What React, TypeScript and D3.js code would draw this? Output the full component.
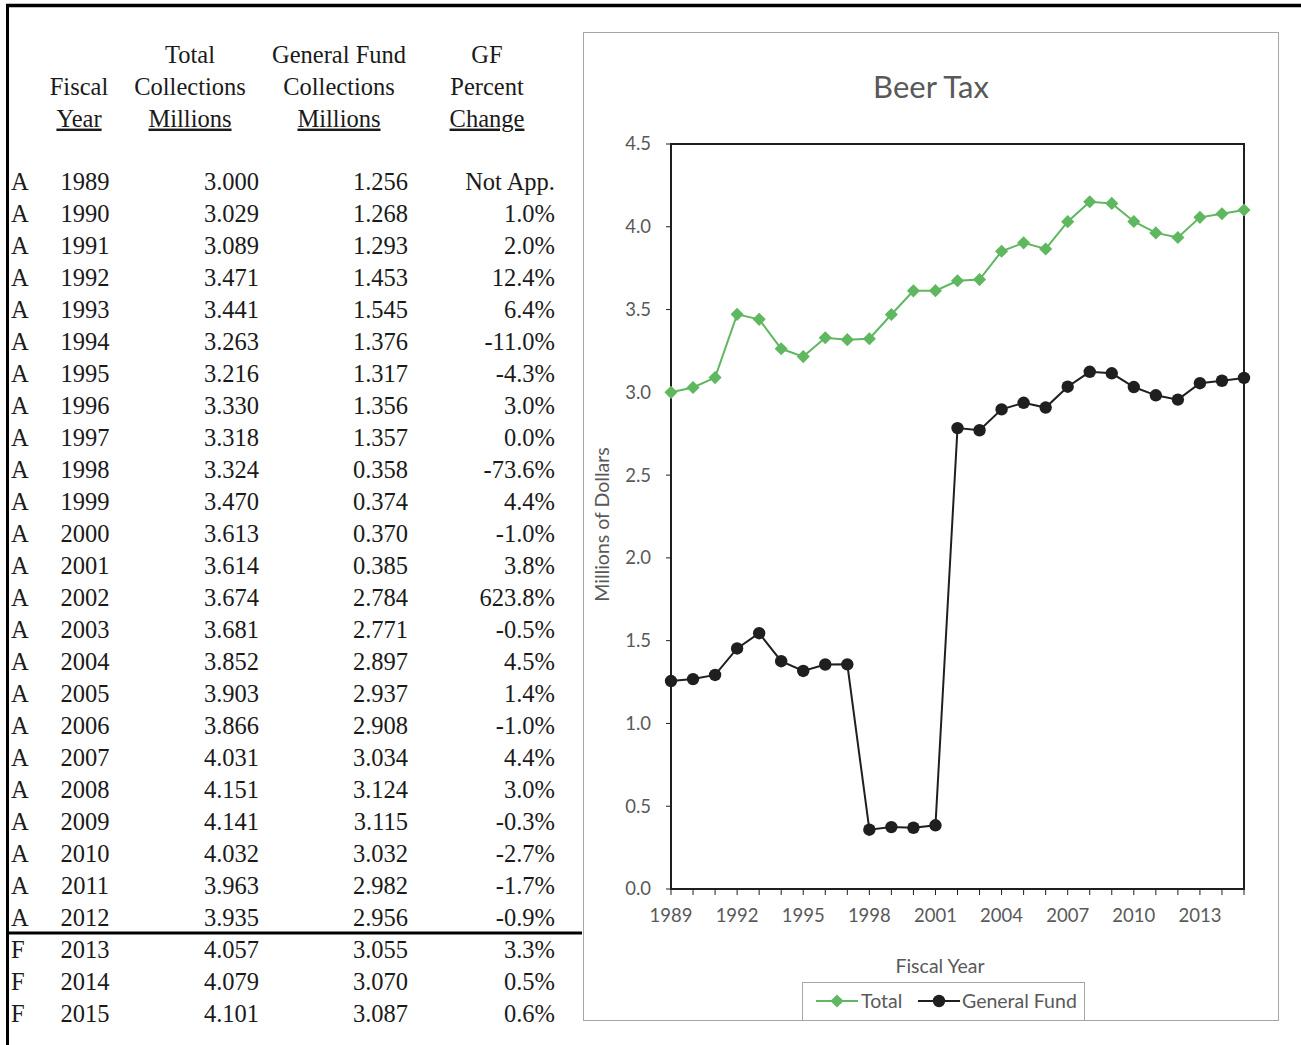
import React from "react";
import * as d3 from "d3";

// Fiscal years and status (A = actual, F = forecast)
const years: number[] = [
  1989, 1990, 1991, 1992, 1993, 1994, 1995, 1996, 1997, 1998, 1999, 2000, 2001, 2002,
  2003, 2004, 2005, 2006, 2007, 2008, 2009, 2010, 2011, 2012, 2013, 2014, 2015,
];
const status: string[] = [
  "A", "A", "A", "A", "A", "A", "A", "A", "A", "A", "A", "A", "A", "A",
  "A", "A", "A", "A", "A", "A", "A", "A", "A", "A", "F", "F", "F",
];
// Total collections, millions
const totalCollections: number[] = [
  3.0, 3.029, 3.089, 3.471, 3.441, 3.263, 3.216, 3.33, 3.318, 3.324, 3.47, 3.613, 3.614,
  3.674, 3.681, 3.852, 3.903, 3.866, 4.031, 4.151, 4.141, 4.032, 3.963, 3.935, 4.057,
  4.079, 4.101,
];
// General Fund collections, millions
const gfCollections: number[] = [
  1.256, 1.268, 1.293, 1.453, 1.545, 1.376, 1.317, 1.356, 1.357, 0.358, 0.374, 0.37,
  0.385, 2.784, 2.771, 2.897, 2.937, 2.908, 3.034, 3.124, 3.115, 3.032, 2.982, 2.956,
  3.055, 3.07, 3.087,
];
// GF percent change
const gfPercentChange: string[] = [
  "Not App.", "1.0%", "2.0%", "12.4%", "6.4%", "-11.0%", "-4.3%", "3.0%", "0.0%",
  "-73.6%", "4.4%", "-1.0%", "3.8%", "623.8%", "-0.5%", "4.5%", "1.4%", "-1.0%", "4.4%",
  "3.0%", "-0.3%", "-2.7%", "-1.7%", "-0.9%", "3.3%", "0.5%", "0.6%",
];
const yTicks: number[] = [0, 0.5, 1, 1.5, 2, 2.5, 3, 3.5, 4, 4.5];
const xLabelYears: number[] = [1989, 1992, 1995, 1998, 2001, 2004, 2007, 2010, 2013];

const GREEN = "#5fb760";
const DARK = "#1f1f1f";
const AXIS_TEXT = "#595959";
const SANS = "Lato, 'Open Sans', sans-serif";
const SERIF = "'Liberation Serif', 'Times New Roman', serif";

const W = 1301;
const H = 1045;

function Table() {
  const rowY = d3.scaleLinear().domain([0, years.length - 1]).range([181.5, 1013.5]);
  const fs = 24.5;
  const col = {
    status: 11,
    year: 85,
    total: 259,
    gf: 408,
    pct: 555,
  };
  const header = (x: number, lines: string[], top: number) =>
    lines.map((t, i) => (
      <text
        key={t}
        x={x}
        y={top + i * 32}
        dy="0.35em"
        textAnchor="middle"
        style={i === lines.length - 1 ? { textDecoration: "underline" } : undefined}
      >
        {t}
      </text>
    ));
  return (
    <g fontFamily={SERIF} fontSize={fs} fill="#1a1a1a">
      {header(79, ["Fiscal", "Year"], 86)}
      {header(190, ["Total", "Collections", "Millions"], 54)}
      {header(339, ["General Fund", "Collections", "Millions"], 54)}
      {header(487, ["GF", "Percent", "Change"], 54)}
      {years.map((yr, i) => {
        const y = rowY(i);
        return (
          <g key={yr}>
            <text x={col.status} y={y} dy="0.35em">{status[i]}</text>
            <text x={col.year} y={y} dy="0.35em" textAnchor="middle">{yr}</text>
            <text x={col.total} y={y} dy="0.35em" textAnchor="end">
              {d3.format(".3f")(totalCollections[i])}
            </text>
            <text x={col.gf} y={y} dy="0.35em" textAnchor="end">
              {d3.format(".3f")(gfCollections[i])}
            </text>
            <text x={col.pct} y={y} dy="0.35em" textAnchor="end">{gfPercentChange[i]}</text>
          </g>
        );
      })}
      {/* separator between actual and forecast rows */}
      <line x1={8} x2={582} y1={933} y2={933} stroke="#000" strokeWidth={3} />
    </g>
  );
}

function Chart() {
  const plot = { left: 671, right: 1244, top: 144, bottom: 889 };
  const x = d3.scaleLinear().domain([years[0], years[years.length - 1]]).range([plot.left, plot.right]);
  const y = d3.scaleLinear().domain([0, 4.5]).range([plot.bottom, plot.top]);
  const line = d3
    .line<number>()
    .x((_, i) => x(years[i]))
    .y((d) => y(d));
  const diamond = d3.symbol().type(d3.symbolDiamond2).size(110)();
  const dotR = 6.2;

  return (
    <g fontFamily={SANS}>
      <rect x={583.5} y={32.5} width={695} height={988} fill="#fff" stroke="#a6a6a6" strokeWidth={1} />
      <text x={931} y={87} dy="0.35em" textAnchor="middle" fontSize={31} fill={AXIS_TEXT}>
        Beer Tax
      </text>

      {/* y axis ticks */}
      {yTicks.map((t) => (
        <g key={t}>
          <line x1={plot.left - 5} x2={plot.left} y1={y(t)} y2={y(t)} stroke={DARK} strokeWidth={1} />
          <text x={651} y={y(t)} dy="0.35em" textAnchor="end" fontSize={18.5} fill={AXIS_TEXT}>
            {d3.format(".1f")(t)}
          </text>
        </g>
      ))}
      {/* x axis ticks */}
      {years.map((yr) => (
        <line key={yr} x1={x(yr)} x2={x(yr)} y1={plot.bottom} y2={plot.bottom + 6} stroke={DARK} strokeWidth={1} />
      ))}
      {xLabelYears.map((yr) => (
        <text key={yr} x={x(yr)} y={916} dy="0.35em" textAnchor="middle" fontSize={18.5} fill={AXIS_TEXT}>
          {yr}
        </text>
      ))}

      <rect
        x={plot.left}
        y={plot.top}
        width={plot.right - plot.left}
        height={plot.bottom - plot.top}
        fill="none"
        stroke={DARK}
        strokeWidth={2}
      />

      <text
        transform={`translate(602, ${(plot.top + plot.bottom) / 2 + 8}) rotate(-90)`}
        textAnchor="middle"
        dy="0.35em"
        fontSize={19.5}
        fill={AXIS_TEXT}
      >
        Millions of Dollars
      </text>
      <text x={940} y={966} dy="0.35em" textAnchor="middle" fontSize={19.5} fill={AXIS_TEXT}>
        Fiscal Year
      </text>

      {/* series */}
      <path d={line(totalCollections) || ""} fill="none" stroke={GREEN} strokeWidth={2} />
      {totalCollections.map((v, i) => (
        <path key={i} d={diamond || ""} transform={`translate(${x(years[i])},${y(v)})`} fill={GREEN} />
      ))}
      <path d={line(gfCollections) || ""} fill="none" stroke={DARK} strokeWidth={2} />
      {gfCollections.map((v, i) => (
        <circle key={i} cx={x(years[i])} cy={y(v)} r={dotR} fill={DARK} />
      ))}

      {/* legend */}
      <rect x={802.5} y={982.5} width={282} height={38} fill="#fff" stroke="#a6a6a6" strokeWidth={1} />
      <line x1={816} x2={858} y1={1001} y2={1001} stroke={GREEN} strokeWidth={2} />
      <path d={diamond || ""} transform="translate(837,1001)" fill={GREEN} />
      <text x={861} y={1001} dy="0.35em" fontSize={19.5} fill={AXIS_TEXT}>Total</text>
      <line x1={918} x2={960} y1={1001} y2={1001} stroke={DARK} strokeWidth={2} />
      <circle cx={939} cy={1001} r={dotR} fill={DARK} />
      <text x={962} y={1001} dy="0.35em" fontSize={19.5} fill={AXIS_TEXT}>General Fund</text>
    </g>
  );
}

export default function App() {
  return (
    <svg
      width={W}
      height={H}
      viewBox={`0 0 ${W} ${H}`}
      style={{ position: "absolute", left: 0, top: 0, background: "#fff" }}
    >
      <rect width={W} height={H} fill="#fff" />
      {/* page frame */}
      <line x1={6} x2={W} y1={5.5} y2={5.5} stroke="#000" strokeWidth={3.5} />
      <line x1={7.5} x2={7.5} y1={4} y2={H} stroke="#000" strokeWidth={3} />
      <Table />
      <Chart />
    </svg>
  );
}
